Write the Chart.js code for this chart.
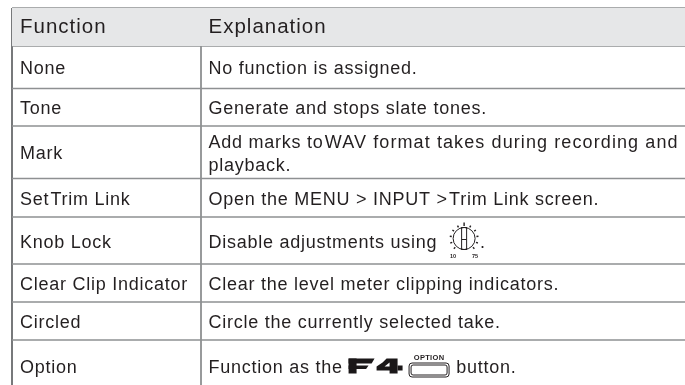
<!DOCTYPE html>
<html>
<head>
<meta charset="utf-8">
<title>Function table</title>
<script src="https://cdn.jsdelivr.net/npm/chart.js@4"></script>
<style>
  html, body { margin: 0; padding: 0; background: #fff; }
  #wrap { width: 685px; height: 385px; overflow: hidden; }
  canvas { display: block; }
</style>
</head>
<body>
<div id="wrap"><canvas id="table" width="685" height="385"></canvas></div>
<script>
// table contents
const headers = ['Function', 'Explanation'];
const functions = ['None', 'Tone', 'Mark', 'Set Trim Link', 'Knob Lock', 'Clear Clip Indicator', 'Circled', 'Option'];
const explanations = [
    ['No function is assigned.'],
    ['Generate and stops slate tones.'],
    ['Add marks to WAV format takes during recording and', 'playback.'],
    ['Open the MENU > INPUT > Trim Link screen.'],
    ['Disable adjustments using {knob}.'],
    ['Clear the level meter clipping indicators.'],
    ['Circle the currently selected take.'],
    ['Function as the {f4}{option} button.']
];

// horizontal rules, table top first
const ruleRows = [8, 46, 88.5, 126, 178.5, 217, 264, 302, 340];
const lastRowBottom = 391; // the last row runs off the picture
const columnRules = [12, 201];
const tableBottom = 385;
const tableRight = 685;

const hLine = y => ({
    data: [{ x: columnRules[0], y }, { x: tableRight, y }],
    showLine: true, pointRadius: 0, borderColor: '#8e9092', borderWidth: 1.5
});
const vLine = (x, width) => ({
    data: [{ x, y: ruleRows[0] }, { x, y: tableBottom }],
    showLine: true, pointRadius: 0, borderColor: '#77797b', borderWidth: width
});

const headerFill = {
    data: [{ x: columnRules[0], y: ruleRows[0] }, { x: tableRight, y: ruleRows[0] }],
    showLine: true, pointRadius: 0, borderWidth: 0,
    backgroundColor: '#e6e7e8',
    fill: { target: { value: ruleRows[1] } }
};

const TEXT = '#231f20';
const FONT_HEAD = '20.5px "Liberation Sans"';
const FONT_BODY = '18px "Liberation Sans"';
const SPACING_HEAD = '1px';
const SPACING_BODY = '0.75px';
const LINE_STEP = 22.5;
const TIGHT_GAP = 4.5; // the source sets these word gaps very narrow

// little pictures that sit inside the text lines
function drawKnob(ctx, x, base) {
    const cx = x + 21, cy = base - 9;
    ctx.save();
    ctx.letterSpacing = '0px';
    ctx.strokeStyle = TEXT;
    ctx.lineWidth = 1;
    ctx.beginPath();
    ctx.arc(cx, cy, 11, 0, Math.PI * 2);
    ctx.stroke();
    ctx.strokeRect(cx - 2.5, cy - 11, 5, 22);
    ctx.beginPath();
    ctx.moveTo(cx - 2.5, cy + 1);
    ctx.lineTo(cx + 2.5, cy + 1);
    ctx.stroke();
    ctx.lineWidth = 1.4;
    for (let i = 0; i < 11; i++) {
        const a = Math.PI * (0.75 + i * 0.15);
        const outer = i === 5 ? 16 : 14.5;
        ctx.beginPath();
        ctx.moveTo(cx + Math.cos(a) * 12.5, cy + Math.sin(a) * 12.5);
        ctx.lineTo(cx + Math.cos(a) * outer, cy + Math.sin(a) * outer);
        ctx.stroke();
    }
    ctx.font = 'bold 5.5px "Liberation Sans"';
    ctx.fillStyle = TEXT;
    ctx.textAlign = 'center';
    ctx.fillText('10', cx - 11, base + 10);
    ctx.fillText('75', cx + 11, base + 10);
    ctx.restore();
    return 37;
}

function drawF4(ctx, x, base) {
    const top = base - 15;
    const poly = pts => {
        ctx.beginPath();
        pts.forEach(([px, py], i) => i ? ctx.lineTo(x + px, top + py) : ctx.moveTo(x + px, top + py));
        ctx.closePath();
    };
    ctx.save();
    ctx.fillStyle = '#1a1718';
    poly([[0, 1], [26, 1], [23, 6], [0, 6]]);
    ctx.fill();
    poly([[0, 8], [20, 8], [17.5, 11.5], [0, 11.5]]);
    ctx.fill();
    ctx.fillRect(x, top + 1, 8, 15);
    poly([[38, 1], [49, 1], [49, 16], [41, 16], [41, 13], [28, 13], [28, 9], [34, 5]]);
    ctx.fill();
    poly([[49, 8], [54, 8], [54, 13], [49, 13]]);
    ctx.fill();
    ctx.fillStyle = '#ffffff';
    poly([[41, 5], [41, 9], [36, 9]]);
    ctx.fill();
    ctx.restore();
    return 60;
}

function drawOption(ctx, x, base) {
    ctx.save();
    ctx.letterSpacing = '0.3px';
    ctx.strokeStyle = TEXT;
    ctx.lineWidth = 1;
    ctx.beginPath();
    ctx.roundRect(x + 0.5, base - 9.5, 40, 14, 3);
    ctx.stroke();
    ctx.beginPath();
    ctx.roundRect(x + 2.5, base - 7.5, 36, 10, 2);
    ctx.stroke();
    ctx.font = 'bold 7.5px "Liberation Sans"';
    ctx.fillStyle = TEXT;
    ctx.textAlign = 'center';
    ctx.fillText('OPTION', x + 20.5, base - 13);
    ctx.restore();
    return 42;
}

const pictures = { knob: drawKnob, f4: drawF4, option: drawOption };

function drawText(ctx, text, x, base) {
    // pieces split after the narrow gaps in "Set Trim", "to WAV", "> Trim"
    text.split(/(?<= )(?=Trim|WAV)/).forEach((piece, i, all) => {
        ctx.save();
        // this line is set wider in the source, it runs right up to the edge
        if (piece.startsWith('WAV')) ctx.letterSpacing = '1.1px';
        ctx.fillText(piece, x, base);
        x += ctx.measureText(piece).width - (i < all.length - 1 ? TIGHT_GAP : 0);
        ctx.restore();
    });
    return x;
}

function drawLine(ctx, line, x, base) {
    line.split(/(\{\w+\})/).forEach(part => {
        const m = part.match(/^\{(\w+)\}$/);
        if (m) {
            x += pictures[m[1]](ctx, x, base);
        } else if (part) {
            x = drawText(ctx, part, x, base);
        }
    });
}

// writes the cell text at scale positions
const cellText = {
    id: 'cellText',
    afterDatasetsDraw(chart) {
        const { ctx, scales: { x, y } } = chart;
        const col0 = x.getPixelForValue(columnRules[0]) + 8;
        const col1 = x.getPixelForValue(columnRules[1]) + 7.5;
        ctx.save();
        ctx.fillStyle = TEXT;
        ctx.textBaseline = 'alphabetic';
        ctx.font = FONT_HEAD;
        ctx.letterSpacing = SPACING_HEAD;
        ctx.fillText(headers[0], col0, y.getPixelForValue(ruleRows[1]) - 13.5);
        ctx.fillText(headers[1], col1, y.getPixelForValue(ruleRows[1]) - 13.5);
        ctx.font = FONT_BODY;
        ctx.letterSpacing = SPACING_BODY;
        functions.forEach((name, i) => {
            const top = y.getPixelForValue(ruleRows[i + 1]);
            const bottom = i + 2 < ruleRows.length ? y.getPixelForValue(ruleRows[i + 2]) : y.getPixelForValue(lastRowBottom);
            const mid = (top + bottom) / 2 + 7;
            drawText(ctx, name, col0, mid);
            const lines = explanations[i];
            lines.forEach((line, k) => {
                drawLine(ctx, line, col1, mid + (k - (lines.length - 1) / 2) * LINE_STEP);
            });
        });
        ctx.restore();
    }
};

new Chart(document.getElementById('table'), {
    type: 'scatter',
    data: {
        datasets: [
            headerFill,
            ...ruleRows.map(hLine),
            vLine(columnRules[0], 2),
            vLine(columnRules[1], 1.5)
        ]
    },
    options: {
        responsive: false,
        animation: false,
        layout: { padding: 0 },
        plugins: { legend: { display: false }, tooltip: { enabled: false } },
        scales: {
            x: { type: 'linear', display: false, min: 0, max: tableRight },
            y: { type: 'linear', display: false, min: 0, max: tableBottom, reverse: true }
        }
    },
    plugins: [cellText]
});
</script>
</body>
</html>
